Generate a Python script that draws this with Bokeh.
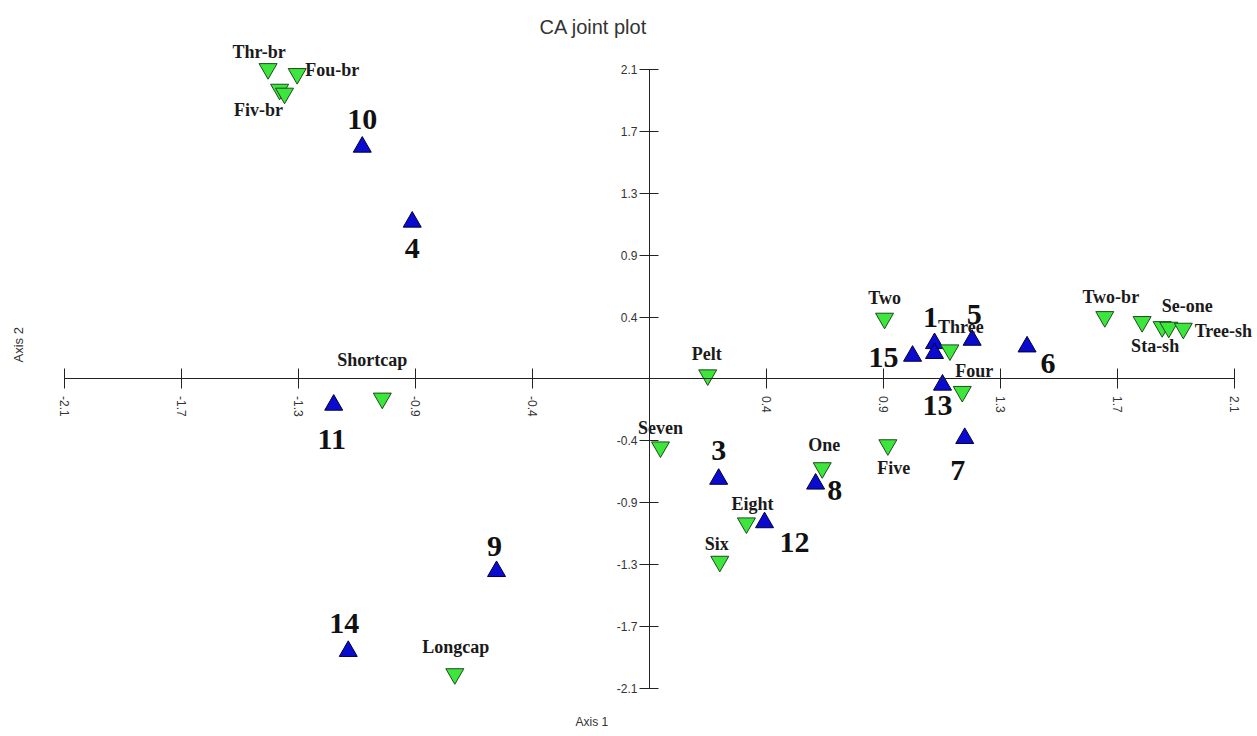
from bokeh.plotting import figure
from bokeh.models import Range1d, FixedTicker, Title, ColumnDataSource
from bokeh.core.properties import value
from bokeh.embed import file_html
from bokeh.resources import INLINE

# ---- data: rows (blue) ----
row_labels = ["1", "2", "3", "4", "5", "6", "7", "8", "9", "10", "11", "12", "13", "14", "15"]
row_x = [1.038, 1.038, 0.252, -0.864, 1.175, 1.375, 1.148, 0.605, -0.557, -1.046, -1.150, 0.419, 1.067, -1.097, 0.958]
row_y = [0.245, 0.177, -0.689, 1.081, 0.268, 0.222, -0.408, -0.722, -1.324, 1.597, -0.179, -0.988, -0.041, -1.874, 0.158]

# ---- data: columns (green) ----
col_labels = ["Thr-br", "Fou-br", "Fiv-br", "", "Shortcap", "Longcap", "Pelt", "Seven", "Eight", "Six",
              "One", "Two", "Three", "Four", "Five", "Two-br", "Sta-sh", "Se-one", "", "Tree-sh"]
col_x = [-1.389, -1.283, -1.347, -1.329, -0.973, -0.709, 0.212, 0.040, 0.353, 0.256,
         0.629, 0.856, 1.094, 1.139, 0.868, 1.658, 1.794, 1.867, 1.891, 1.944]
col_y = [2.135, 2.101, 1.993, 1.966, -0.133, -2.030, 0.027, -0.469, -0.992, -1.256,
         -0.612, 0.417, 0.199, -0.087, -0.454, 0.428, 0.394, 0.359, 0.355, 0.348]

# ---- axis ticks ----
tick_values = [-2.13, -1.704, -1.278, -0.852, -0.426, 0.426, 0.852, 1.278, 1.704, 2.13]
tick_labels = ["-2.1", "-1.7", "-1.3", "-0.9", "-0.4", "0.4", "0.9", "1.3", "1.7", "2.1"]

# ---- label placement (pixel offsets, layout only) ----
row_dx = [-4, 0, 0, 0, 2, 21, -7, 19, -2, 0, -2, 30, -5, -4, -29]
row_dy = [-26, 0, -29, 27, -26, 17, 32, 7, -25, -27, 35, 20, 21, -28, 1]
col_dx = [-9, 35, -21, 0, -10, 1, -1, 0, 6, -3, 2, 0, 11, 12, 6, 6, 13, 25, 0, 40]
col_dy = [-17, -4, 21, 0, -38, -27, -21, -19, -19, -17, -23, -20, -23, -21, 23, -20, 24, -21, 0, 3]

p = figure(width=1256, height=735, output_backend="svg", toolbar_location=None,
           x_range=Range1d(-2.2469, 2.2105), y_range=Range1d(-2.2474, 2.3299),
           min_border_left=32, min_border_right=0, min_border_top=40, min_border_bottom=29)
p.outline_line_color = None
p.grid.visible = False
p.background_fill_color = "white"

overrides = {v: s for v, s in zip(tick_values, tick_labels)}

xa = p.xaxis[0]
xa.fixed_location = 0
xa.bounds = (-2.13, 2.13)
xa.ticker = FixedTicker(ticks=tick_values, minor_ticks=[])
xa.major_label_overrides = overrides
xa.major_label_orientation = "vertical"
xa.major_tick_in = 10
xa.major_tick_out = 10
xa.minor_tick_in = 0
xa.minor_tick_out = 0
xa.major_label_standoff = 7

ya = p.yaxis[0]
ya.fixed_location = 0
ya.bounds = (-2.13, 2.13)
ya.ticker = FixedTicker(ticks=tick_values, minor_ticks=[])
ya.major_label_overrides = overrides
ya.major_label_orientation = "horizontal"
ya.major_tick_in = 9
ya.major_tick_out = 10
ya.minor_tick_in = 0
ya.minor_tick_out = 0
ya.major_label_standoff = 2

for ax in (xa, ya):
    ax.axis_line_color = "#222222"
    ax.major_tick_line_color = "#222222"
    ax.major_label_text_font = "Liberation Sans"
    ax.major_label_text_font_size = "12px"
    ax.major_label_text_color = "#333333"

row_src = ColumnDataSource(dict(x=row_x, y=row_y, label=row_labels,
                                dx=row_dx, dy=row_dy))
col_src = ColumnDataSource(dict(x=col_x, y=col_y, label=col_labels,
                                dx=col_dx, dy=col_dy))

p.scatter("x", "y", source=row_src, marker="triangle", size=18,
          fill_color="#0b0bd0", line_color="#00003a", line_width=1)
p.scatter("x", "y", source=col_src, marker="inverted_triangle", size=18,
          fill_color="#3ce63c", line_color="#1e4a1e", line_width=1)

# row labels except the hidden "2" (covered by "1" in the reference)
keep = [i for i, l in enumerate(row_labels) if l != "2"]
row_lab_src = ColumnDataSource(dict(
    x=[row_x[i] for i in keep], y=[row_y[i] for i in keep],
    label=[row_labels[i] for i in keep],
    dx=[row_dx[i] for i in keep], dy=[row_dy[i] for i in keep]))

p.text("x", "y", text="label", source=row_lab_src, x_offset="dx", y_offset="dy",
       text_align="center", text_baseline="middle",
       text_font=value("Liberation Serif"), text_font_style="bold",
       text_font_size="30px", text_color="#111111")
p.text("x", "y", text="label", source=col_src, x_offset="dx", y_offset="dy",
       text_align="center", text_baseline="middle",
       text_font=value("Liberation Serif"), text_font_style="bold",
       text_font_size="18px", text_color="#1a1a1a")

p.add_layout(Title(text="CA joint plot", align="left", offset=507,
                   text_font="Liberation Sans", text_font_size="20px",
                   text_font_style="normal", text_color="#333333", standoff=6), "above")
p.add_layout(Title(text="Axis 1", align="left", offset=543,
                   text_font="Liberation Sans", text_font_size="12px",
                   text_font_style="normal", text_color="#333333", standoff=14), "below")
p.add_layout(Title(text="Axis 2", align="left", offset=343,
                   text_font="Liberation Sans", text_font_size="13px",
                   text_font_style="normal", text_color="#333333", standoff=14), "left")

open("out.html", "w").write(file_html(p, INLINE))
